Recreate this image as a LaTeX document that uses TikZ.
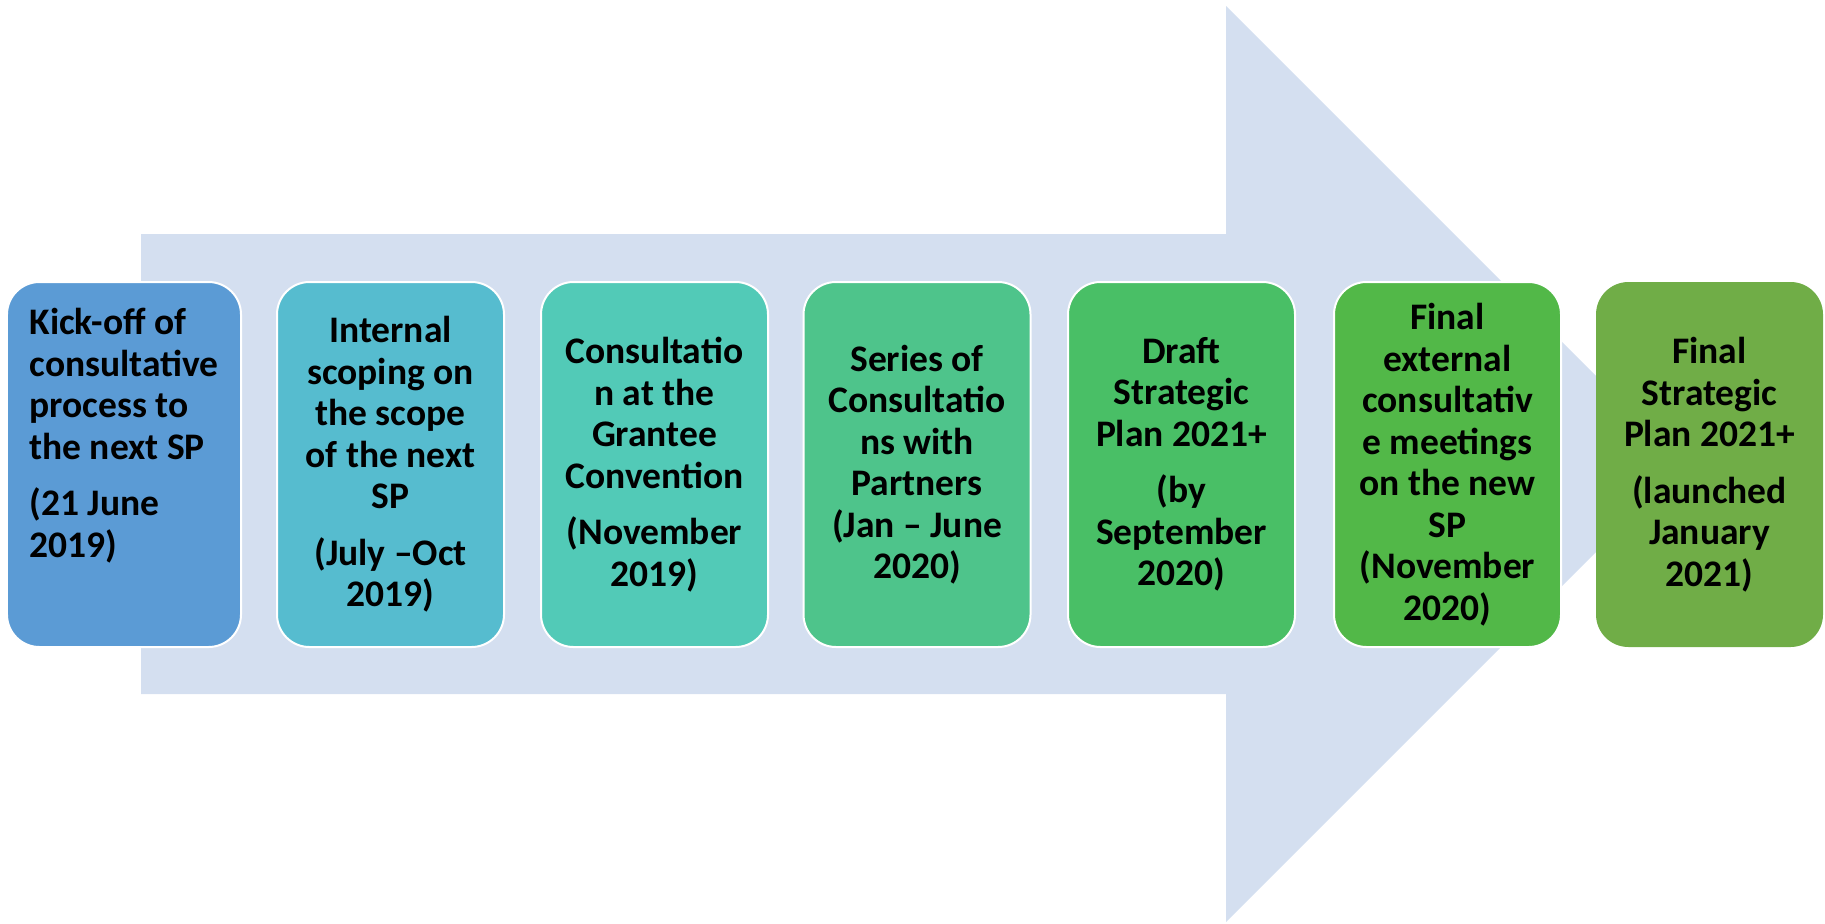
\documentclass[tikz,border=0pt]{standalone}
\usepackage{fontspec}
\setmainfont{Carlito}
\usetikzlibrary{positioning}

\definecolor{arrowblue}{HTML}{D4DFF0}
\definecolor{boxa}{HTML}{5B9BD5}
\definecolor{boxb}{HTML}{56BCCF}
\definecolor{boxc}{HTML}{52CAB7}
\definecolor{boxd}{HTML}{4EC48B}
\definecolor{boxe}{HTML}{49BF66}
\definecolor{boxf}{HTML}{52B848}
\definecolor{boxg}{HTML}{70AD47}

\tikzset{
    stepbox/.style={rounded corners=13pt, draw=white, line width=0.8pt,
        minimum height=146pt, minimum width=90.8pt, inner sep=0pt},
    steptext/.style={align=center, inner sep=0pt,
        font=\bfseries\fontsize{15}{16.6}\selectfont}
}

\begin{document}
\begin{tikzpicture}[x=0.4pt,y=0.4pt]
    \useasboundingbox (0,0) rectangle (1825,923);

    % big arrow in the back
    \fill[arrowblue] (141,689) -- (1226,689) -- (1226,917) -- (1684,459)
        -- (1226,1) -- (1226,229) -- (141,229) -- cycle;

    \begin{scope}[every node/.style={stepbox}]
        \node[fill=boxa, minimum width=93.6pt] (b1) at (124,458.5) {};
        \node[fill=boxb] (b2) at (390.5,458.5) {};
        \node[fill=boxc] (b3) at (654.5,458.5) {};
        \node[fill=boxd] (b4) at (917,458.5) {};
        \node[fill=boxe] (b5) at (1181.5,458.5) {};
        \node[fill=boxf] (b6) at (1447.5,458.5) {};
        \node[fill=boxg, draw=none] (b7) at (1709.5,458.5) {};
    \end{scope}

    \node[steptext, align=left, anchor=north west] (t1) at (29,615)
        {Kick-off of\\consultative\\process to\\the next SP\\[6pt](21 June\\2019)};
    \node[steptext] (t2) at (b2)
        {Internal\\scoping on\\the scope\\of the next\\SP\\[6pt](July --Oct\\2019)};
    \node[steptext] (t3) at (b3)
        {Consultatio\\n at the\\Grantee\\Convention\\[6pt](November\\2019)};
    \node[steptext] (t4) at (b4)
        {Series of\\Consultatio\\ns with\\Partners\\(Jan -- June\\2020)};
    \node[steptext] (t5) at (b5)
        {Draft\\Strategic\\Plan 2021+\\[6pt](by\\September\\2020)};
    \node[steptext] (t6) at (b6)
        {Final\\external\\consultativ\\e meetings\\on the new\\SP\\(November\\2020)};
    \node[steptext] (t7) at (b7)
        {Final\\Strategic\\Plan 2021+\\[6pt](launched\\January\\2021)};
\end{tikzpicture}
\end{document}
